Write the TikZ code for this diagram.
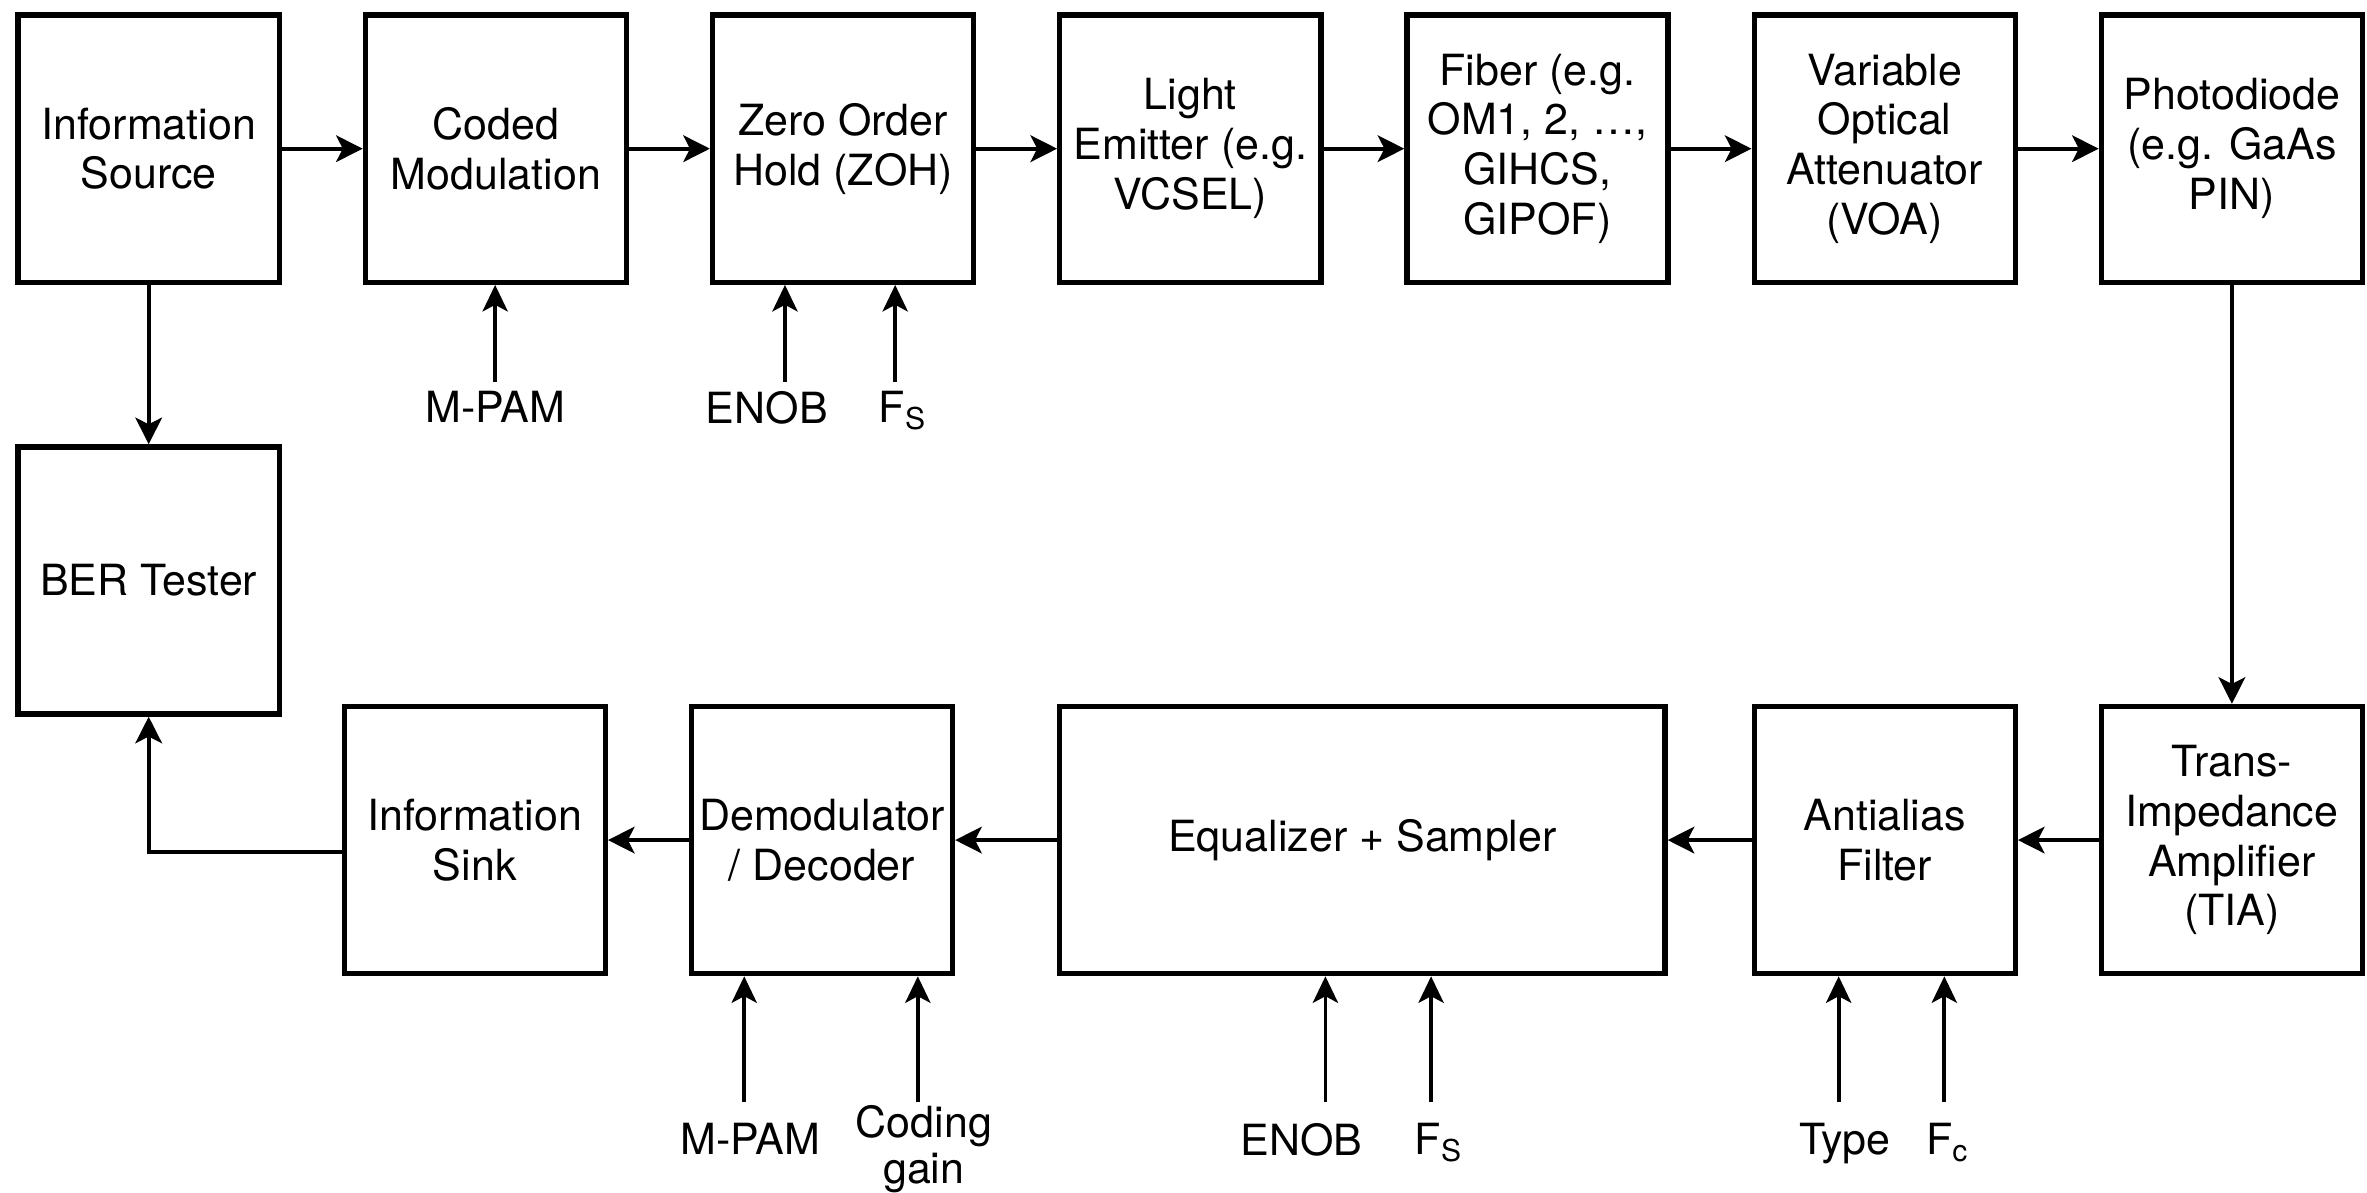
\documentclass[tikz,border=0pt]{standalone}
\usepackage{fontspec}
\setmainfont{TeX Gyre Heros}
\usetikzlibrary{arrows.meta}
\begin{document}
\begin{tikzpicture}[x=0.02cm,y=-0.02cm,
  txt/.style={font=\fontsize{16.2}{18.8}\selectfont},
  blk/.style={txt,draw,line width=2pt,rectangle,inner sep=0pt,align=center,
              minimum width=3.46cm,minimum height=3.54cm},
  lbl/.style={txt,inner sep=0pt,align=center,anchor=north},
  flow/.style={line width=1.6pt,-{Stealth[length=10pt,width=10pt,inset=2.5pt]}},
  inp/.style={line width=1.4pt,-{Stealth[length=10pt,width=9.5pt,inset=2.5pt]}}]
\useasboundingbox (0,0) rectangle (1568,790);
% top row
\node[blk] (src) at (98.5,98.5) {Information\\Source};
\node[blk] (cm)  at (328.5,98.5) {Coded\\Modulation};
\node[blk] (zoh) at (558.5,98.5) {Zero Order\\Hold (ZOH)};
\node[blk] (le)  at (788.5,98.5) {Light\\Emitter (e.g.\\VCSEL)};
\node[blk] (fib) at (1018.5,98.5) {Fiber (e.g.\\OM1, 2, …,\\GIHCS,\\GIPOF)};
\node[blk] (voa) at (1248.5,98.5) {Variable\\Optical\\Attenuator\\(VOA)};
\node[blk] (pd)  at (1478.5,98.5) {Photodiode\\(e.g. GaAs\\PIN)};
% left
\node[blk] (ber) at (98.5,384.5) {BER Tester};
% bottom row
\node[blk] (sink) at (314.5,556.5) {Information\\Sink};
\node[blk] (dem)  at (544.5,556.5) {Demodulator\\/ Decoder};
\node[blk,minimum width=8.02cm] (eq) at (902.5,556.5) {Equalizer + Sampler};
\node[blk] (aa)   at (1248.5,556.5) {Antialias\\Filter};
\node[blk] (tia)  at (1478.5,556.5) {Trans-\\Impedance\\Amplifier\\(TIA)};
% main flow
\draw[flow] (src) -- (cm);
\draw[flow] (cm) -- (zoh);
\draw[flow] (zoh) -- (le);
\draw[flow] (le) -- (fib);
\draw[flow] (fib) -- (voa);
\draw[flow] (voa) -- (pd);
\draw[flow] (pd) -- (tia);
\draw[flow] (tia) -- (aa);
\draw[flow] (aa) -- (eq);
\draw[flow] (eq) -- (dem);
\draw[flow] (dem) -- (sink);
\draw[flow] (src) -- (ber);
\draw[flow] ([yshift=-0.16cm]sink.west) -| (ber.south);
% top inputs
\node[lbl] (l1) at (328,259) {M-PAM};
\node[lbl] (l2) at (508,259) {ENOB};
\node[lbl] (l3) at (598,259) {F\textsubscript{S}};
\coordinate (c1) at (328,253);
\coordinate (c2) at (520,253);
\coordinate (c3) at (593,253);
\draw[inp] (c1) -- (c1 |- cm.south);
\draw[inp] (c2) -- (c2 |- zoh.south);
\draw[inp] (c3) -- (c3 |- zoh.south);
% bottom inputs
\node[lbl] (l4) at (497,744) {M-PAM};
\node[lbl,font=\fontsize{16.2}{17.4}\selectfont] (l5) at (612,732) {Coding\\gain};
\node[lbl] (l6) at (862,744) {ENOB};
\node[lbl] (l7) at (953,744) {F\textsubscript{S}};
\node[lbl] (l8) at (1222,744) {Type};
\node[lbl] (l9) at (1290,744) {F\textsubscript{c}};
\coordinate (d4) at (493,730);
\coordinate (d5) at (608,730);
\coordinate (d6) at (878,730);
\coordinate (d7) at (948,730);
\coordinate (d8) at (1218,730);
\coordinate (d9) at (1288,730);
\draw[inp] (d4) -- (d4 |- dem.south);
\draw[inp] (d5) -- (d5 |- dem.south);
\draw[inp] (d6) -- (d6 |- eq.south);
\draw[inp] (d7) -- (d7 |- eq.south);
\draw[inp] (d8) -- (d8 |- aa.south);
\draw[inp] (d9) -- (d9 |- aa.south);
\end{tikzpicture}
\end{document}
